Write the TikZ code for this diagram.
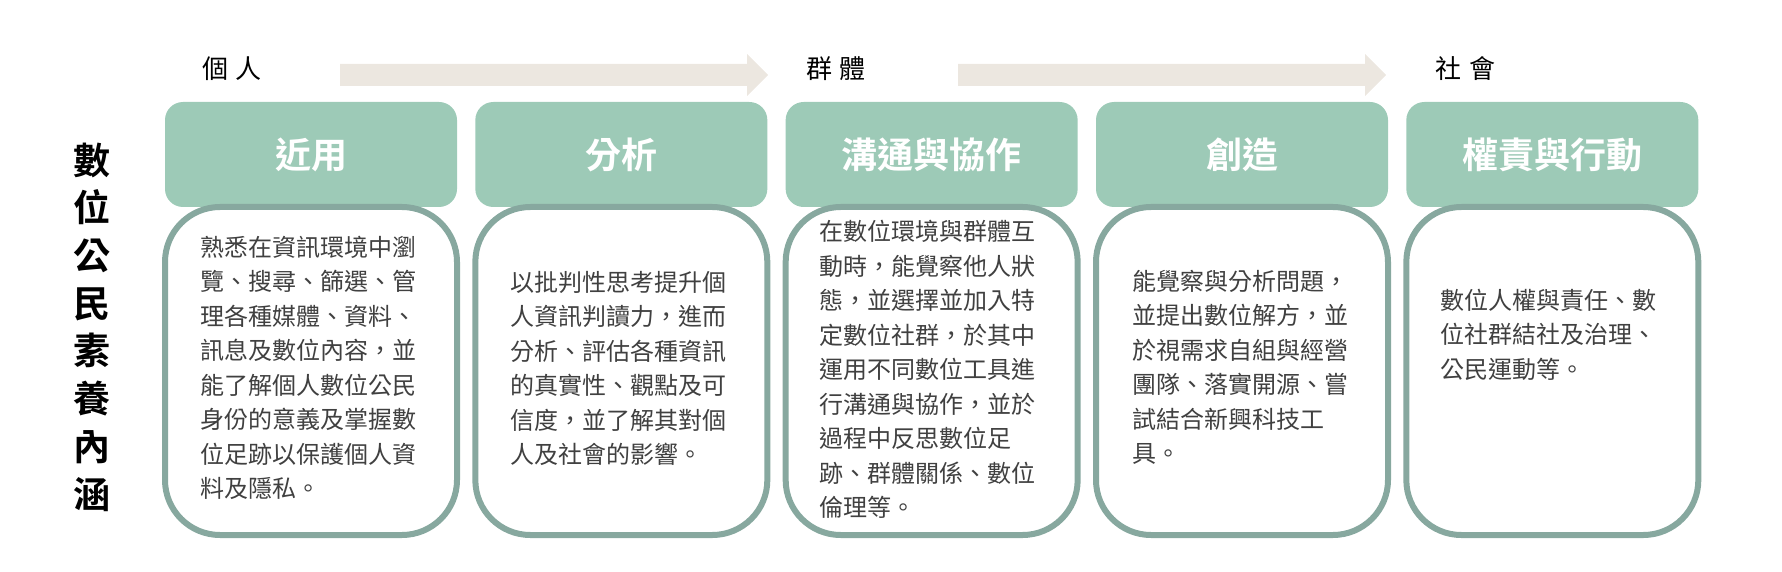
\documentclass[tikz,border=0pt]{standalone}
\usepackage{fontspec}
\setmainfont{Noto Sans CJK TC}
\newfontfamily\cjkbold{Noto Sans CJK TC Bold}
\usetikzlibrary{positioning}
\definecolor{headfill}{HTML}{9DCAB7}
\definecolor{bodyline}{HTML}{87A89F}
\definecolor{arrowfill}{HTML}{ECE7E0}
\definecolor{bodytext}{HTML}{404040}
\tikzset{
  headbox/.style={fill=headfill, draw=none, rounded corners=18pt},
  bodybox/.style={fill=white, draw=bodyline, line width=6pt, rounded corners=55pt},
  headtext/.style={text=white, font=\cjkbold\fontsize{36}{40}\selectfont, inner sep=0pt},
  bodytxt/.style={text=bodytext, font=\fontsize{24}{34.5}\selectfont, text width=216pt, align=left, inner sep=0pt, anchor=west},
  stagelabel/.style={text=black, font=\fontsize{26}{30}\selectfont, inner sep=0pt},
  flowarrow/.style={fill=arrowfill, draw=none}
}
\begin{document}
\begin{tikzpicture}[x=1pt,y=-1pt]
\useasboundingbox (0,0) rectangle (1782,572);
% stage labels
\node[stagelabel] (lab1) at (232,69) {個\hspace{8pt}人};
\node[stagelabel] (lab2) at (836,69) {群\hspace{8pt}體};
\node[stagelabel] (lab3) at (1465,69) {社\hspace{8pt}會};
% flow arrows
\fill[flowarrow] (340,64) -- (747,64) -- (747,54) -- (768,75) -- (747,96) -- (747,86) -- (340,86) -- cycle;
\fill[flowarrow] (958,64) -- (1365,64) -- (1365,54) -- (1386,75) -- (1365,96) -- (1365,86) -- (958,86) -- cycle;
% vertical title
\node[text=black, font=\cjkbold\fontsize{37}{47.7}\selectfont, align=center, inner sep=0pt] (title) at (92,327) {數\\位\\公\\民\\素\\養\\內\\涵};
% columns
\foreach \i/\head in {0/近用,1/分析,2/溝通與協作,3/創造,4/權責與行動}{
  \pgfmathsetmacro{\L}{165+310.33*\i}
  \pgfmathsetmacro{\R}{\L+292}
  \pgfmathsetmacro{\C}{\L+146}
  \path[headbox] (\L,102) rectangle (\R,207);
  \path[bodybox] (\L,207) rectangle (\R,535);
  \node[headtext] (h\i) at (\C,155) {\head};
}
\node[bodytxt] (t0) at (200,368) {熟悉在資訊環境中瀏\\覽、搜尋、篩選、管\\理各種媒體、資料、\\訊息及數位內容，並\\能了解個人數位公民\\身份的意義及掌握數\\位足跡以保護個人資\\料及隱私。};
\node[bodytxt] (t1) at (510,368.5) {以批判性思考提升個\\人資訊判讀力，進而\\分析、評估各種資訊\\的真實性、觀點及可\\信度，並了解其對個\\人及社會的影響。};
\node[bodytxt] (t2) at (819,369.5) {在數位環境與群體互\\動時，能覺察他人狀\\態，並選擇並加入特\\定數位社群，於其中\\運用不同數位工具進\\行溝通與協作，並於\\過程中反思數位足\\跡、群體關係、數位\\倫理等。};
\node[bodytxt] (t3) at (1132,367.5) {能覺察與分析問題，\\並提出數位解方，並\\於視需求自組與經營\\團隊、落實開源、嘗\\試結合新興科技工\\具。};
\node[bodytxt] (t4) at (1440,334.5) {數位人權與責任、數\\位社群結社及治理、\\公民運動等。};
\end{tikzpicture}
\end{document}
